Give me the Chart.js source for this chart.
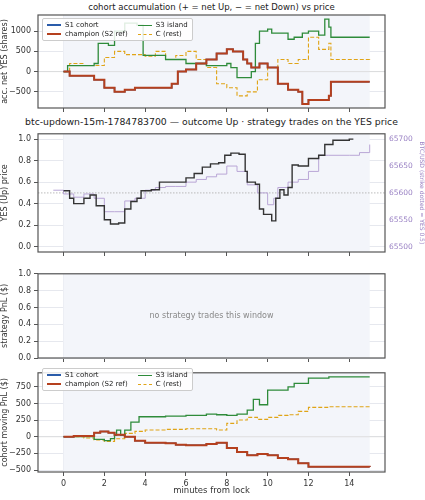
<!DOCTYPE html>
<html><head><meta charset="utf-8">
<script src="https://cdn.jsdelivr.net/npm/chart.js@4"></script>
<style>
body{margin:0;width:425px;height:500px;position:relative;background:#fff;font-family:"DejaVu Sans",sans-serif;overflow:hidden}
canvas{position:absolute;left:0}
.t{position:absolute;left:0;width:423px;text-align:center;color:#222;white-space:nowrap}
.lg{position:absolute;background:rgba(255,255,255,0.85);border:1px solid #ccc;border-radius:2px;font-size:7px;color:#222;padding:2px 4px;display:grid;grid-template-columns:auto auto;column-gap:10px;row-gap:1px}
.lg span{display:flex;align-items:center;white-space:nowrap}
.lg i{display:inline-block;width:14px;height:0;margin-right:4px}
</style></head><body>
<div class="t" style="top:2px;font-size:8.5px">cohort accumulation (+ = net Up, − = net Down) vs price</div>
<div class="t" style="top:116px;font-size:9.3px">btc-updown-15m-1784783700 — outcome Up · strategy trades on the YES price</div>
<canvas id="c1" width="425" height="118" style="top:0"></canvas>
<canvas id="c2" width="425" height="136" style="top:126px"></canvas>
<canvas id="c3" width="425" height="100" style="top:266px"></canvas>
<canvas id="c4" width="425" height="135" style="top:365px"></canvas>
<div class="lg" style="left:42px;top:18px">
<span><i style="border-top:2px solid #2a5caa"></i>S1 cohort</span><span><i style="border-top:1.5px solid #2e8b3a"></i>S3 island</span>
<span><i style="border-top:2.5px solid #b5401e"></i>champion (S2 ref)</span><span><i style="border-top:1.5px dashed #e0a416"></i>C (rest)</span>
</div>
<div class="lg" style="left:42px;top:368px">
<span><i style="border-top:2px solid #2a5caa"></i>S1 cohort</span><span><i style="border-top:1.5px solid #2e8b3a"></i>S3 island</span>
<span><i style="border-top:2.5px solid #b5401e"></i>champion (S2 ref)</span><span><i style="border-top:1.5px dashed #e0a416"></i>C (rest)</span>
</div>
<script>
// ---- panel 1: accumulated net YES (shares)
const accS3T=[0,0.2,0.8,1.5,1.7,2.2,2.5,3,3.6,3.9,5,6,7,8,8.2,8.5,9,9.2,9.4,9.6,10,10.2,11,11.3,11.7,12,12.5,12.8,13,13.1,15];
const accS3V=[0,150,150,200,700,650,1000,1200,1150,400,300,200,150,200,100,-150,-150,0,700,1000,1050,950,800,850,950,1000,900,1300,1100,850,850];
const accChT=[0,0.3,1,1.5,2,2.5,3,3.5,4,5,5.3,5.6,6,6.5,7,7.5,8,8.3,8.8,9,9.2,9.6,10,10.5,11,11.5,11.7,12,12.5,13,13.1,15];
const accChV=[0,-100,-100,-200,-400,-500,-450,-400,-400,-400,-300,0,50,200,300,450,550,500,300,200,100,200,100,-300,-450,-500,-800,-700,-700,-600,-250,-250];
const accCT=[0,0.3,1,1.5,2,2.5,3,3.5,4,4.5,5,5.5,6,6.5,7,7.5,8,8.5,9,9.5,10,10.5,11,11.5,12,12.5,13,13.1,15];
const accCV=[0,200,150,150,350,500,420,420,380,500,300,400,500,300,100,-300,-400,-600,-500,-200,100,300,200,300,850,550,700,300,250];
// ---- panel 2: YES price and BTC
const yesT=[0,0.3,0.5,1,1.3,1.6,2,2.3,2.7,3,3.3,3.6,3.8,4.3,4.7,5.3,6,6.4,6.8,7.2,7.6,7.9,8.2,8.6,8.9,9,9.4,9.6,9.8,10.2,10.4,10.6,10.8,11,11.2,11.5,12,12.5,12.8,13.2,14,14.2];
const yesV=[0.52,0.45,0.40,0.45,0.48,0.38,0.25,0.21,0.22,0.35,0.42,0.45,0.52,0.53,0.60,0.60,0.64,0.68,0.74,0.77,0.78,0.85,0.87,0.86,0.70,0.60,0.58,0.35,0.30,0.24,0.45,0.53,0.48,0.55,0.76,0.75,0.82,0.85,0.95,0.99,1.0,1.0];
const btcT=[-0.5,0,0.5,1,1.5,2,2.5,3,3.5,4,4.5,5,5.5,6,6.5,7,7.5,8,8.5,9,9.5,10,10.3,10.5,11,11.5,12,12.5,13,14,14.5,15];
const btcV=[65605,65598,65592,65598,65590,65565,65565,65585,65590,65605,65610,65612,65612,65620,65625,65630,65635,65650,65640,65615,65600,65578,65590,65610,65620,65625,65640,65670,65670,65670,65675,65690];
// ---- panel 4: cohort moving PnL ($)
const pnlS3T=[0,1,1.5,2,2.3,2.5,2.6,2.8,3,3.3,3.7,5,6,7,7.5,8,8.5,9,9.3,9.6,10,11,11.3,12,13,15];
const pnlS3V=[0,0,-40,-60,-30,20,100,20,100,220,300,310,320,340,330,320,340,400,560,480,700,750,800,880,900,900];
const pnlChT=[0,0.5,1,1.5,1.8,2.2,2.5,3,3.5,4,5,5.5,6,7,7.5,8,8.5,9,9.5,10,10.5,11,11.5,12,15];
const pnlChV=[0,10,10,60,80,60,30,0,-60,-90,-100,-120,-130,-110,-90,-170,-230,-280,-260,-280,-320,-340,-400,-450,-455];
const pnlCT=[0,1,1.5,2,2.5,3,3.5,4,5,6,7,7.5,8,8.5,9,9.5,10,10.5,11,11.5,12,13,15];
const pnlCV=[0,-20,-50,-70,-30,50,80,100,110,120,120,100,200,250,290,260,290,320,330,380,440,450,455];
const xTicks=[0,2,4,6,8,10,12,14];

const pts=(t,v)=>t.map((x,i)=>({x,y:v[i]}));
const F={family:"DejaVu Sans",size:8};
const frame={id:'frame',beforeDatasetsDraw(c){const a=c.chartArea,x=c.scales.x,g=c.ctx;g.save();
 g.fillStyle='#f3f5fa';const l=x.getPixelForValue(0),r=x.getPixelForValue(15);g.fillRect(l,a.top,r-l,a.bottom-a.top);g.restore();},
 afterDraw(c){const a=c.chartArea,g=c.ctx;g.save();g.strokeStyle='#555';g.lineWidth=1.2;g.strokeRect(a.left,a.top,a.right-a.left,a.bottom-a.top);g.restore();}};
function xScale(h,labels,title){return {type:'linear',min:-1.25,max:15.75,afterBuildTicks:s=>{s.ticks=xTicks.map(v=>({value:v}))},
 afterFit:s=>{s.height=h},grid:{color:'#e6e8ee',tickColor:'#555',tickLength:4},border:{display:false},
 ticks:{display:labels,font:F,color:'#333',maxRotation:0},title:{display:!!title,text:title||'',font:{family:"DejaVu Sans",size:8.5},color:'#333',padding:{top:0}}};}
function yScale(o){return Object.assign({afterFit:s=>{s.width=38},grid:{color:'#e6e8ee',tickColor:'#555',tickLength:4},border:{display:false},
 ticks:{font:F,color:'#333'}},o);}
function ds(data,color,w,extra){return Object.assign({data,borderColor:color,borderWidth:w,pointRadius:0,stepped:true,fill:false},extra||{});}
const base={responsive:false,animation:false,plugins:{legend:{display:false},tooltip:{enabled:false}},layout:{padding:{right:40,top:0,bottom:0}}};
function hline(y,color,dash){return {id:'h'+Math.random(),beforeDatasetsDraw(c){const a=c.chartArea,g=c.ctx,p=c.scales.y.getPixelForValue(y);g.save();g.strokeStyle=color;g.lineWidth=0.8;g.setLineDash(dash);g.beginPath();g.moveTo(a.left,p);g.lineTo(a.right,p);g.stroke();g.restore();}};}

new Chart(c1,{type:'line',data:{datasets:[
 ds(pts(accChT,accChV),'#b5401e',2),
 ds(pts(accChT,accChV),'#2a5caa',1.5),
 ds(pts(accS3T,accS3V),'#2e8b3a',1.3),
 ds(pts(accCT,accCV),'#e0a416',1.1,{borderDash:[4,2]})]},
 options:Object.assign({},base,{layout:{padding:{right:40,top:15}},scales:{x:xScale(10,false),
 y:yScale({min:-900,max:1400,afterBuildTicks:s=>{s.ticks=[-500,0,500,1000].map(v=>({value:v}))},ticks:{font:F,color:'#333',callback:v=>String(v).replace('-','−')},title:{display:true,text:'acc. net YES (shares)',font:F,color:'#333',padding:0}})}}),
 plugins:[frame,hline(0,'#d8d8d8',[])]});

new Chart(c2,{type:'line',data:{datasets:[
 ds(pts(yesT,yesV),'#333',1.4),
 ds(pts(btcT,btcV),'#b9a6d6',1,{yAxisID:'y2'})]},
 options:Object.assign({},base,{layout:{padding:{right:0,top:5}},scales:{x:xScale(10,false),
 y:yScale({min:-0.05,max:1.05,afterBuildTicks:s=>{s.ticks=[0,0.2,0.4,0.6,0.8,1].map(v=>({value:v}))},ticks:{font:F,color:'#333',callback:v=>v.toFixed(1)},title:{display:true,text:'YES (Up) price',font:F,color:'#333',padding:0}}),
 y2:{position:'right',min:65490,max:65710,afterFit:s=>{s.width=40},afterBuildTicks:s=>{s.ticks=[65500,65550,65600,65650,65700].map(v=>({value:v}))},
  grid:{display:false,tickLength:3},border:{display:false},ticks:{font:{family:"DejaVu Sans",size:7.5},color:'#9a82c4',padding:1,callback:v=>String(v)},title:{display:true,text:'BTC/USD (strike dotted = YES 0.5)',font:{family:"DejaVu Sans",size:6},color:'#9a82c4',padding:0}}}}),
 plugins:[frame,hline(0.5,'#aaa',[1.5,1.5])]});

new Chart(c3,{type:'line',data:{datasets:[]},
 options:Object.assign({},base,{layout:{padding:{right:40,top:4}},scales:{x:xScale(8,false),
 y:yScale({min:0,max:1,afterBuildTicks:s=>{s.ticks=[0,0.2,0.4,0.6,0.8,1].map(v=>({value:v}))},ticks:{font:F,color:'#333',callback:v=>v.toFixed(1)},title:{display:true,text:'strategy PnL ($)',font:F,color:'#333',padding:0}})}}),
 plugins:[frame,{id:'msg',afterDraw(c){const a=c.chartArea,g=c.ctx;g.save();g.fillStyle='#888';g.font='8px "DejaVu Sans"';g.textAlign='center';g.textBaseline='middle';g.fillText('no strategy trades this window',(a.left+a.right)/2,(a.top+a.bottom)/2);g.restore();}}]});

new Chart(c4,{type:'line',data:{datasets:[
 ds(pts(pnlChT,pnlChV),'#b5401e',2),
 ds(pts(pnlChT,pnlChV),'#2a5caa',1.5),
 ds(pts(pnlS3T,pnlS3V),'#2e8b3a',1.3),
 ds(pts(pnlCT,pnlCV),'#e0a416',1.1,{borderDash:[4,2]})]},
 options:Object.assign({},base,{layout:{padding:{right:40,top:0}},scales:{x:xScale(28,true,'minutes from lock'),
 y:yScale({min:-530,max:960,afterBuildTicks:s=>{s.ticks=[-500,-250,0,250,500,750].map(v=>({value:v}))},ticks:{font:F,color:'#333',callback:v=>String(v).replace('-','−')},title:{display:true,text:'cohort moving PnL ($)',font:F,color:'#333',padding:0}})}}),
 plugins:[frame,hline(0,'#d8d8d8',[])]});
</script></body></html>
